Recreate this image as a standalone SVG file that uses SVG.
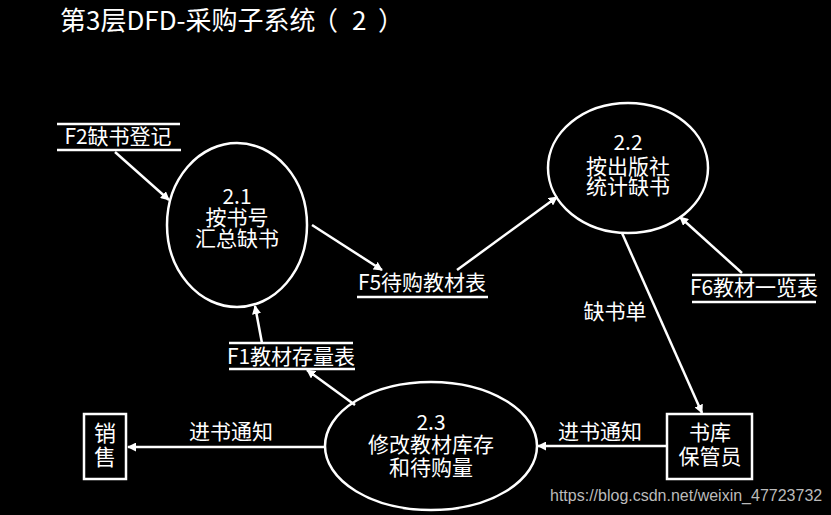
<svg xmlns="http://www.w3.org/2000/svg" width="831" height="515" viewBox="0 0 831 515">
<defs>
<marker id="arr" viewBox="0 0 10 10" refX="9" refY="5" markerWidth="9" markerHeight="9" markerUnits="userSpaceOnUse" orient="auto">
<path d="M0,0 L10,5 L0,10 z" fill="#fff"/>
</marker>
</defs>
<style>
.t{font-family:"Noto Sans CJK SC","Liberation Sans",sans-serif;fill:#fff;text-anchor:middle}
.n{font-size:21px}
.s{stroke:#fff;stroke-width:2.5;fill:none}
.c{stroke:#fff;stroke-width:2.5;fill:none;marker-end:url(#arr)}
</style>
<rect width="831" height="515" fill="#000"/>
<text x="60" y="30" font-family="Noto Sans CJK SC,Liberation Sans,sans-serif" font-size="26" fill="#fff">第3层DFD-采购子系统<tspan x="312">（</tspan><tspan x="352">2</tspan><tspan x="378">）</tspan></text>
<g id="p21">
<ellipse class="s" cx="237" cy="225" rx="70" ry="82"/>
<text class="t n" x="237" y="204">2.1</text>
<text class="t n" x="237" y="225">按书号</text>
<text class="t n" x="237" y="246">汇总缺书</text>
</g>
<g id="p22">
<ellipse class="s" cx="628" cy="168" rx="80" ry="65"/>
<text class="t n" x="628" y="150">2.2</text>
<text class="t n" x="628" y="174">按出版社</text>
<text class="t n" x="628" y="194">统计缺书</text>
</g>
<g id="p23">
<ellipse class="s" cx="431" cy="446" rx="106" ry="64"/>
<text class="t n" x="431" y="430">2.3</text>
<text class="t n" x="431" y="452">修改教材库存</text>
<text class="t n" x="431" y="475">和待购量</text>
</g>
<g id="f2">
<line class="s" x1="57" y1="124" x2="180" y2="124"/>
<line class="s" x1="57" y1="150" x2="181" y2="150"/>
<text class="t n" x="118" y="144">F2缺书登记</text>
</g>
<g id="f5">
<line class="s" x1="357" y1="297" x2="488" y2="297"/>
<text class="t n" x="422" y="290">F5待购教材表</text>
</g>
<g id="f6">
<line class="s" x1="692" y1="275" x2="815" y2="275"/>
<line class="s" x1="692" y1="302" x2="816" y2="302"/>
<text class="t n" x="754" y="295">F6教材一览表</text>
</g>
<g id="f1">
<line class="s" x1="229" y1="343" x2="353" y2="343"/>
<line class="s" x1="229" y1="369" x2="355" y2="369"/>
<text class="t n" x="291" y="364">F1教材存量表</text>
</g>
<g id="sk">
<rect class="s" x="667" y="414" width="85" height="65"/>
<text class="t n" x="710" y="440">书库</text>
<text class="t n" x="710" y="464">保管员</text>
</g>
<g id="xs">
<rect class="s" x="84" y="414" width="42" height="65"/>
<text class="t" font-size="22" x="105" y="441">销</text>
<text class="t" font-size="22" x="105" y="465">售</text>
</g>
<g id="connectors">
<line class="c" x1="115" y1="152" x2="169" y2="200"/>
<line class="c" x1="312" y1="225" x2="382" y2="270"/>
<line class="c" x1="457" y1="270" x2="557" y2="197"/>
<line class="c" x1="742" y1="273" x2="680" y2="217"/>
<line class="c" x1="622" y1="233" x2="702" y2="413"/>
<line class="c" x1="667" y1="446" x2="538" y2="446"/>
<line class="c" x1="325" y1="447" x2="128" y2="447"/>
<line class="c" x1="355" y1="405" x2="307" y2="370"/>
<line class="c" x1="262" y1="343" x2="255" y2="306"/>
<text class="t n" x="615" y="319">缺书单</text>
<text class="t n" x="600" y="439">进书通知</text>
<text class="t n" x="231" y="439">进书通知</text>
</g>
<text x="550" y="501" font-family="Liberation Sans,Arial,sans-serif" font-size="16" fill="#bbb">https://blog.csdn.net/weixin_47723732</text>
</svg>
